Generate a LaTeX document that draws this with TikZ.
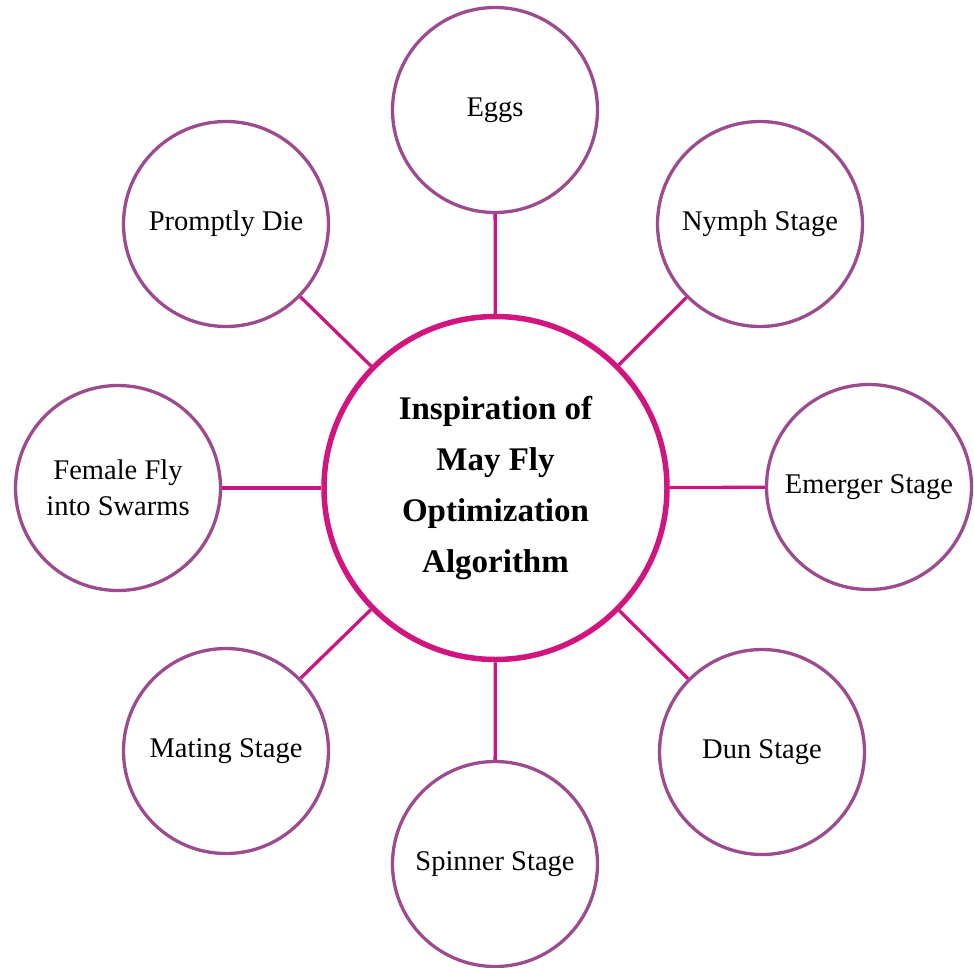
\documentclass[tikz,border=0pt]{standalone}
\usepackage{fontspec}
\setmainfont{Liberation Serif}
\definecolor{outerc}{HTML}{9C4C8E}
\definecolor{centerc}{HTML}{D2157E}
\definecolor{connc}{HTML}{CC1580}
\tikzset{
  stage/.style={circle, draw=outerc, line width=3.3pt, minimum size=205pt, inner sep=0pt,
    align=center, font=\fontsize{28.5}{36}\selectfont, fill=white},
  hub/.style={circle, draw=centerc, line width=5.5pt, minimum size=343pt, inner sep=0pt,
    align=center, font=\fontsize{33}{51}\selectfont\bfseries, fill=white},
  conn/.style={draw=connc, line width=3.3pt}
}
\begin{document}
\begin{tikzpicture}[x=1pt,y=-1pt]
\useasboundingbox (0,0) rectangle (974,967);
\node[hub] (c) at (495.5,488) {Inspiration of\\May Fly\\Optimization\\Algorithm};
\node[stage] (eggs) at (495,110) {Eggs};
\node[stage] (nymph) at (760,224) {Nymph Stage};
\node[stage] (emerger) at (869,487) {Emerger Stage};
\node[stage] (dun) at (762,752) {Dun Stage};
\node[stage] (spinner) at (495,864) {Spinner Stage};
\node[stage] (mating) at (226,751) {Mating Stage};
\node[stage] (female) at (118,488) {Female Fly\\into Swarms};
\node[stage] (die) at (226,224) {Promptly Die};
\foreach \n in {eggs,nymph,emerger,dun,spinner,mating,female,die}
  \draw[conn] (c) -- (\n);
\end{tikzpicture}
\end{document}
